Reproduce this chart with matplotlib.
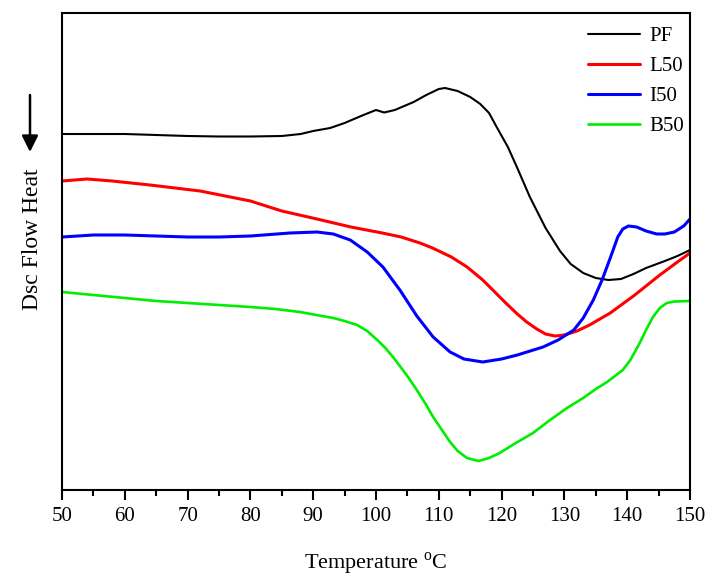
import matplotlib
matplotlib.use("Agg")
import matplotlib.pyplot as plt
from matplotlib.ticker import MultipleLocator

plt.rcParams['font.family'] = ['Liberation Serif', 'DejaVu Serif']
plt.rcParams['mathtext.fontset'] = 'custom'
plt.rcParams['mathtext.rm'] = 'Liberation Serif'

# Heat-flow readings (arbitrary units, larger value = lower on the chart)
pf_t = [50, 55, 60, 65, 70, 75, 80, 85, 88, 90, 92.7, 95, 98, 100, 101.3, 103, 106, 108,
        110, 111, 113, 115, 116.6, 118, 119.3, 121, 122.5, 124.5, 127, 129.3, 131, 133,
        135, 137, 139, 141, 143, 146, 148, 150]
pf_v = [134, 134, 134, 135, 136, 136.5, 136.5, 136, 134, 131, 128, 123, 115, 110, 112.5, 110,
        102, 95, 89, 88, 91, 97, 104, 113, 128, 147, 168, 197, 228, 251, 264, 273,
        278, 280, 279, 274, 268, 261, 256, 250]

l50_t = [50, 54, 58, 64, 72, 80, 85, 90.6, 96, 101, 104, 107, 109, 112, 114.5, 117, 118.6,
         120.5, 122.5, 124, 125.6, 127, 128.5, 130, 132, 134, 137.3, 141, 145.2, 148, 150]
l50_v = [181, 179, 181, 185, 191, 201, 211, 219, 227, 233, 237, 243, 248, 257, 267, 280, 290,
         302, 314, 322, 329, 334, 336, 335, 331, 325, 313, 296, 275, 262, 253]

i50_t = [50, 55, 60, 65, 70, 75, 80, 86.3, 90.6, 93.2, 95.9, 98.6, 101.1, 103.8, 106.5, 109.1,
         111.8, 114, 117, 120, 122.5, 126.6, 129, 131.5, 133, 134.6, 136, 137.3, 138.5, 139.3,
         140.2, 141.5, 143, 144.7, 146, 147.5, 149, 150]
i50_v = [237, 235, 235, 236, 237, 237, 236, 233, 232, 234, 240, 252, 267, 290, 316, 337,
         352, 359, 362, 359, 355, 347, 340, 330, 318, 300, 280, 258, 237, 229,
         226, 227, 231, 234, 234, 232, 226, 219]

b50_t = [50, 55, 60, 65, 70, 75, 80, 84, 87.9, 90.5, 93.2, 95, 97, 98.6, 100.2, 101.5, 102.7,
         103.8, 105.1, 106.5, 108, 109.1, 110.5, 111.8, 113, 114.5, 116.3, 118, 119.7, 122,
         125, 127.5, 130.4, 133, 135, 136.8, 139.3, 140.5, 142, 143, 144.1, 145.2, 146.3,
         147.5, 150]
b50_v = [292, 295, 298, 301, 303, 305, 307, 309, 312, 315, 318, 321, 325, 331, 340, 348, 357,
         366, 377, 390, 405, 417, 430, 442, 451, 458, 461, 458, 453, 444,
         433, 421, 408, 398, 389, 382, 370, 360, 343, 330, 317, 308, 303,
         301.5, 301]

series = [("PF", pf_t, pf_v, "black", 1.5),
          ("L50", l50_t, l50_v, "#ff0000", 2.2),
          ("I50", i50_t, i50_v, "#0000ff", 2.2),
          ("B50", b50_t, b50_v, "#00ee00", 1.9)]

W, H = 720, 586
fig = plt.figure(figsize=(W / 100, H / 100), dpi=100)
ax = fig.add_axes([62 / W, 1 - 490 / H, 628 / W, 477 / H])

for name, t, v, c, lw in series:
    ax.plot(t, v, color=c, lw=lw, label=name, solid_joinstyle='round',
            solid_capstyle='round')

ax.set_xlim(50, 150)
ax.set_ylim(490, 13)
ax.xaxis.set_major_locator(MultipleLocator(10))
ax.xaxis.set_minor_locator(MultipleLocator(5))
ax.tick_params(axis='x', which='major', direction='out', length=7, width=1.5,
               labelsize=15, pad=5)
ax.tick_params(axis='x', which='minor', direction='out', length=4, width=1.5)
ax.set_yticks([])
for s in ax.spines.values():
    s.set_linewidth(1.5)

ax.set_xlabel('Temperature $^{\\mathrm{o}}$C', fontsize=16, labelpad=18)

leg = ax.legend(loc='upper right', bbox_to_anchor=(1.0 + 8 / 628, 1.0), frameon=False,
                fontsize=15, handlelength=2.5, labelspacing=0.5, borderaxespad=0.25,
                handletextpad=0.45)

fig.text(32 / W, 1 - 239 / H, 'Dsc Flow Heat', rotation=90, ha='center', va='center',
         fontsize=17)
ax.annotate('', xy=(30 / W, 1 - 152 / H), xytext=(30 / W, 1 - 95 / H),
            xycoords='figure fraction', textcoords='figure fraction',
            arrowprops=dict(arrowstyle='-|>,head_length=0.7,head_width=0.35',
                            mutation_scale=14, color='black', lw=1.8,
                            shrinkA=0, shrinkB=0))

fig.savefig('out.png', dpi=100, facecolor='white')
